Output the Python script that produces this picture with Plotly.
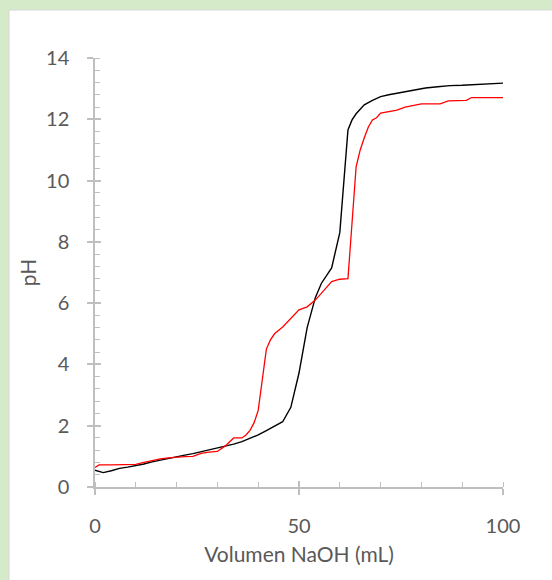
import plotly.graph_objects as go

# Black titration curve
vol_black = [0, 2, 4, 6, 8, 10, 12, 14, 16, 18, 20, 22, 24, 26, 28, 30, 32, 34, 36, 38,
             40, 42, 44, 46, 48, 50, 52, 54, 55.5, 58, 60, 62, 63, 64, 65, 66, 68, 70,
             72, 75, 78, 81, 84, 87, 90, 93, 96, 100]
ph_black = [0.55, 0.47, 0.53, 0.61, 0.65, 0.69, 0.75, 0.82, 0.88, 0.94, 0.99, 1.04, 1.09,
            1.15, 1.21, 1.27, 1.33, 1.40, 1.48, 1.58, 1.70, 1.84, 1.98, 2.13, 2.60, 3.72,
            5.20, 6.18, 6.65, 7.15, 8.30, 11.65, 11.98, 12.18, 12.33, 12.47, 12.62, 12.74,
            12.80, 12.88, 12.95, 13.02, 13.06, 13.10, 13.11, 13.13, 13.15, 13.18]

# Red titration curve
vol_red = [0, 1, 4, 8, 10, 12, 14, 16, 18, 20, 22, 24, 26, 28, 30, 32, 34, 36, 37, 38,
           39, 40, 41, 42, 43, 44, 46, 48, 50, 52, 54, 56, 58, 60, 62, 64, 65, 66, 67, 68,
           69, 70, 72, 74, 76, 78, 80, 84.6, 86.6, 91, 92.3, 96, 100]
ph_red = [0.64, 0.72, 0.72, 0.72, 0.74, 0.80, 0.86, 0.92, 0.95, 0.98, 0.99, 1.00, 1.10,
          1.14, 1.16, 1.35, 1.60, 1.60, 1.70, 1.85, 2.10, 2.50, 3.50, 4.50, 4.80, 5.00,
          5.22, 5.50, 5.78, 5.88, 6.10, 6.40, 6.70, 6.78, 6.80, 10.45, 11.00, 11.40,
          11.75, 11.98, 12.05, 12.20, 12.25, 12.30, 12.40, 12.45, 12.50, 12.50, 12.60,
          12.62, 12.71, 12.71, 12.71]

x_ticks = [0, 50, 100]
y_ticks = [0, 2, 4, 6, 8, 10, 12, 14]

W, H = 552, 580
L, R, T, B = 95, 49, 58, 93
pw, ph = W - L - R, H - T - B

axis_col = "#BFBFBF"
text_col = "#595959"
font_fam = "Lato, Carlito, 'Liberation Sans', sans-serif"

fig = go.Figure()
fig.add_trace(go.Scatter(x=vol_black, y=ph_black, mode="lines",
                         line=dict(color="#000000", width=1.4), showlegend=False))
fig.add_trace(go.Scatter(x=vol_red, y=ph_red, mode="lines",
                         line=dict(color="#FF0000", width=1.3), showlegend=False))
# invisible trace to activate overlay axes (for crossing major ticks)
fig.add_trace(go.Scatter(x=vol_black, y=ph_black, mode="lines", xaxis="x2", yaxis="y2",
                         line=dict(width=0), opacity=0, showlegend=False, hoverinfo="skip"))

# white panel (positions in paper coordinates derived from pixels)
def px_x(p):
    return (p - L) / pw

def px_y(p):
    return (H - B - p) / ph

fig.add_shape(type="rect", xref="paper", yref="paper",
              x0=px_x(9), x1=px_x(560), y0=px_y(590), y1=px_y(10),
              fillcolor="white", line=dict(color="#D6D6D6", width=1), layer="below")

fig.update_layout(
    width=W, height=H,
    margin=dict(l=L, r=R, t=T, b=B),
    paper_bgcolor="#D4EAC8",
    plot_bgcolor="rgba(0,0,0,0)",
    font=dict(family=font_fam, color=text_col, size=20),
    xaxis=dict(range=[0, 100], tickvals=x_ticks, ticks="outside", ticklen=6,
               tickcolor=axis_col, tickwidth=1.5, showline=True, linecolor=axis_col,
               linewidth=1.5, showgrid=False, zeroline=False,
               tickfont=dict(size=20, color=text_col), ticklabelstandoff=14,
               minor=dict(dtick=10, ticks="inside", ticklen=5, tickcolor=axis_col,
                          tickwidth=1.2, showgrid=False),
               title=dict(text="Volumen NaOH (mL)", font=dict(size=21, color=text_col),
                          standoff=12)),
    yaxis=dict(range=[0, 14], tickvals=y_ticks, ticks="outside", ticklen=6,
               tickcolor=axis_col, tickwidth=1.5, showline=True, linecolor=axis_col,
               linewidth=1.5, showgrid=False, zeroline=False,
               tickfont=dict(size=20, color=text_col), ticklabelstandoff=14,
               minor=dict(dtick=0.4, ticks="inside", ticklen=5, tickcolor=axis_col,
                          tickwidth=1.2, showgrid=False),
               title=dict(text="pH", font=dict(size=21, color=text_col), standoff=4)),
    xaxis2=dict(range=[0, 100], overlaying="x", anchor="y", side="bottom",
                tickvals=x_ticks, ticks="inside", ticklen=6, tickcolor=axis_col,
                tickwidth=1.5, showticklabels=False, showline=False, showgrid=False,
                zeroline=False),
    yaxis2=dict(range=[0, 14], overlaying="y", anchor="x", side="left",
                tickvals=y_ticks, ticks="inside", ticklen=6, tickcolor=axis_col,
                tickwidth=1.5, showticklabels=False, showline=False, showgrid=False,
                zeroline=False),
)

fig.write_html("out.html")
